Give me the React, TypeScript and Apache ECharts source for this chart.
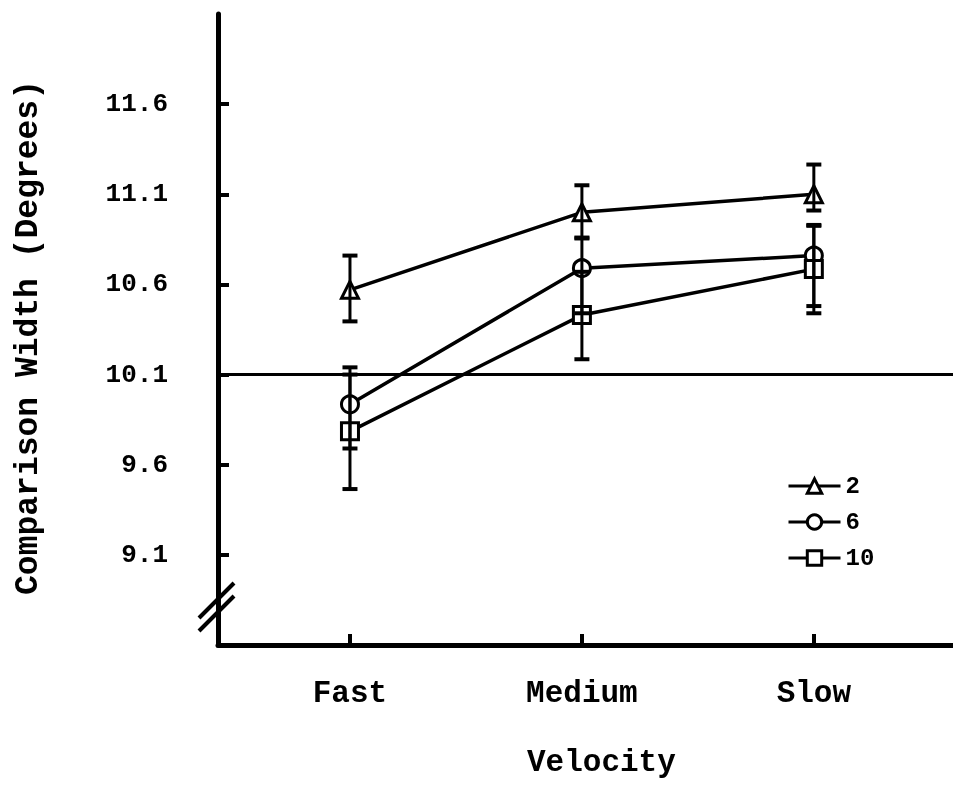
import React, { useEffect, useRef } from "react";
import * as echarts from "echarts";

const categories = ["Fast", "Medium", "Slow"];
const yTicks = [9.1, 9.6, 10.1, 10.6, 11.1, 11.6];
const referenceLine = 10.1;

const seriesNames = ["2", "6", "10"];
const symbols = ["triangle", "circle", "rect"];

const values2 = [10.57, 11.0, 11.1];
const values6 = [9.935, 10.69, 10.76];
const values10 = [9.785, 10.43, 10.685];

const errLow2 = [10.395, 10.855, 11.01];
const errHigh2 = [10.76, 11.15, 11.265];
const errLow6 = [9.69, 10.44, 10.48];
const errHigh6 = [10.14, 10.86, 10.925];
const errLow10 = [9.465, 10.185, 10.44];
const errHigh10 = [10.1, 10.67, 10.93];

const allValues = [values2, values6, values10];
const allLow = [errLow2, errLow6, errLow10];
const allHigh = [errHigh2, errHigh6, errHigh10];

const FONT = "Liberation Mono";

export default function App() {
  const ref = useRef<HTMLDivElement>(null);
  useEffect(() => {
    if (!ref.current) return;
    const chart = echarts.init(ref.current, null, { renderer: "svg" });

    const lineSeries: any[] = allValues.map((vals, i) => ({
      name: seriesNames[i],
      type: "line",
      data: vals.map((v, j) => [j + 1, v]),
      symbol: symbols[i],
      symbolSize: 17,
      itemStyle: { color: "#fff", borderColor: "#000", borderWidth: 3 },
      lineStyle: { color: "#000", width: 3.5 },
      z: 3,
      ...(i === 0
        ? {
            markLine: {
              silent: true,
              symbol: "none",
              label: { show: false },
              lineStyle: { color: "#000", width: 3, type: "solid" },
              data: [{ yAxis: referenceLine }],
            },
          }
        : {}),
    }));

    const errSeries: any[] = allValues.map((vals, i) => ({
      name: "err" + seriesNames[i],
      type: "custom",
      z: 4,
      data: vals.map((_, j) => [j + 1, allLow[i][j], allHigh[i][j]]),
      renderItem: (params: any, api: any) => {
        const x = api.value(0);
        const lo = api.coord([x, api.value(1)]);
        const hi = api.coord([x, api.value(2)]);
        const half = 7.5;
        const style = { stroke: "#000", lineWidth: 3 };
        return {
          type: "group",
          children: [
            { type: "line", shape: { x1: lo[0], y1: lo[1], x2: hi[0], y2: hi[1] }, style },
            { type: "line", shape: { x1: lo[0] - half, y1: lo[1], x2: lo[0] + half, y2: lo[1] }, style: { ...style, lineWidth: 4 } },
            { type: "line", shape: { x1: hi[0] - half, y1: hi[1], x2: hi[0] + half, y2: hi[1] }, style: { ...style, lineWidth: 4 } },
          ],
        };
      },
    }));

    chart.setOption({
      animation: false,
      title: {
        text: "Velocity",
        left: 522,
        top: 742,
        textStyle: { fontFamily: FONT, fontWeight: "bold", fontSize: 31, color: "#000" },
      },
      legend: {
        data: seriesNames,
        orient: "vertical",
        left: 782,
        top: 469,
        itemWidth: 52,
        itemHeight: 18,
        itemGap: 12,
        lineStyle: { width: 3, color: "#000" },
        itemStyle: { borderWidth: 3, borderColor: "#000", color: "#fff" },
        textStyle: { fontFamily: FONT, fontWeight: "bold", fontSize: 24, color: "#000" },
      },
      grid: { left: 218, right: 0, top: 14, bottom: 804 - 645, outerBoundsMode: "none" },
      xAxis: {
        type: "value",
        min: 0.431,
        max: 3.6,
        splitLine: { show: false },
        axisLine: { lineStyle: { color: "#000", width: 5 } },
        axisTick: { inside: true, length: 11, lineStyle: { color: "#000", width: 4 }, customValues: [1, 2, 3] },
        axisLabel: {
          customValues: [1, 2, 3],
          formatter: (v: number) => categories[Math.round(v) - 1] ?? "",
          margin: 33,
          fontFamily: FONT,
          fontWeight: "bold",
          fontSize: 31,
          color: "#000",
        },
      },
      yAxis: {
        type: "value",
        min: 8.6,
        max: 12.1,
        name: "Comparison Width (Degrees)",
        nameLocation: "middle",
        nameRotate: 90,
        nameGap: 173,
        nameTextStyle: { fontFamily: FONT, fontWeight: "bold", fontSize: 33, color: "#000", padding: [0, 16, 0, 0] },
        splitLine: { show: false },
        axisLine: { lineStyle: { color: "#000", width: 5 } },
        axisTick: { inside: true, length: 11, lineStyle: { color: "#000", width: 4 }, customValues: yTicks },
        axisLabel: {
          customValues: yTicks,
          formatter: (v: number) => v.toFixed(1),
          margin: 50,
          fontFamily: FONT,
          fontWeight: "bold",
          fontSize: 26,
          color: "#000",
        },
      },
      graphic: [
        { type: "line", shape: { x1: 199, y1: 618, x2: 234, y2: 583 }, style: { stroke: "#000", lineWidth: 4 } },
        { type: "line", shape: { x1: 199, y1: 631, x2: 234, y2: 596 }, style: { stroke: "#000", lineWidth: 4 } },
      ],
      series: [...lineSeries, ...errSeries],
    });
    return () => chart.dispose();
  }, []);
  return <div ref={ref} style={{ position: "fixed", left: 0, top: 0, width: 953, height: 804 }} />;
}
